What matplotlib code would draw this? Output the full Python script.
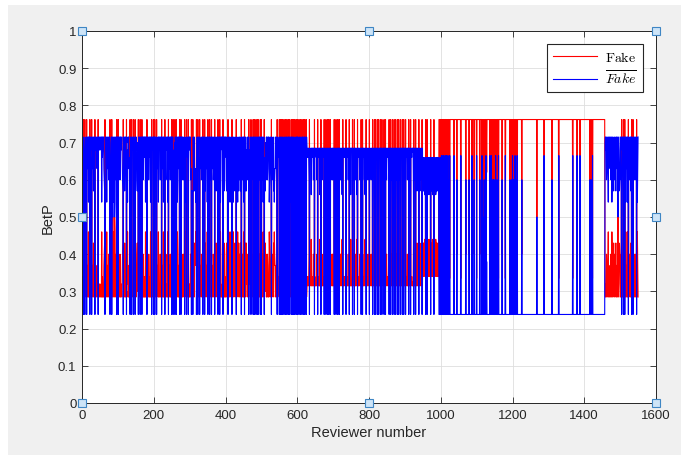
import numpy as np
import matplotlib
matplotlib.use("Agg")
import matplotlib.pyplot as plt
from matplotlib.patches import Rectangle

# BetP level pairs (Fake, not Fake), one letter per level
level_codes = ["a", "k", "l", "o", "c", "m", "d", "n", "e", "g", "f",
               "b", "j", "h", "i", "t", "p", "r"]
fake_levels = [0.285, 0.30, 0.32, 0.34, 0.37, 0.40, 0.43, 0.46, 0.50, 0.62, 0.762,
               0.315, 0.325, 0.34, 0.40, 0.44, 0.335, 0.40]
notfake_levels = [0.715, 0.70, 0.68, 0.66, 0.63, 0.60, 0.57, 0.54, 0.50, 0.38, 0.238,
                  0.685, 0.675, 0.66, 0.60, 0.56, 0.665, 0.60]

# one letter per reviewer, 50 reviewers per row
reviewer_states = [
    "fdmfaldfoc amfackanac afalkafoca kdaamfakla ockafaakla",
    "aklanaoaka cmdfalakna ckamcaafoc kafadeanca enakmafaka",
    "fakcamaalk aomdfakadc akafclnaka comfakcfal kafmadkfal",
    "aomdkcfala kfalnafaca makaoanaka falcamkaoa nacfaklafa",
    "lafamcafoc kanalakmac afakcanalk faomaklana fakcamaoaf",
    "akafolmkfa lafkanmaca kfalafakma camkofacnd fakoafmala",
    "kamcfdndfa cdamdcndfc anfcakafoc kamcalfaka lfadkocana",
    "falcafakma fackamcalf aomdkacafa kcafanmaka lafakdaoak",
    "amdakcfanc adndamcfad cnamcdamdf adcnamdcam cdafncamca",
    "nafcdamdlc amcafnlmac famlcafakf almafcamfa fcamanfoaf",
    "amlanlafoc dkmacamcal anmlacdfac kmadcnmcak camfcakolf",
    "amfakfalfa ncfakmfaca fdmafaofan lafamfadfa kcfanmfaoa",
    "falkfamcfa cdfamafnca faccfabjhb bhifbjhbtb hbjbibjfbb",
    "bjhbibfbhj bbtbhfbjib bjhbfbibhf bjhbfbifbh bfbjhbibib",
    "bjfbihbfbj hbfbjbfbhi bibjtbfbhb bjhbifbjbh bibjfbhbtb",
    "bjbfbibjfb hbibjtbfbh bjbihbjfbb bfbhbjibtb bfbjhbibjh",
    "fbjhbibjhf bjbifbbfjb hbfbjifbbh bfbjbfbihb bfbjbfbhib",
    "bjhbifbjbf bibjfbtbjf bjbfbibjfb bjfbibjfbb hbfbjbfbib",
    "bfbjhbibjb fbjbifbjhb bjbtfbibjf bhbdbihbfb hdbihbjfbd",
    "hdhitdhfhd hfhdhitdhh dfhidhthhd fhdhitdhdh hdhtfffhff",
    "fpfrfpffpf rffpfpfrfp ffrfpfffff ffffffpfff ffffrfffff",
    "fffffpffff fffffffffr ffffffffrf ffffffpfff ffrffffffp",
    "ffffffffrf ffffpfefgf rfeffpfgff ffffffpfrf pfefrfrfff",
    "rfpfefrfff pfffffffff rffffffffp ffffffffff ffrffffrfp",
    "frfrffpfff rfpfffffff fffffrffff ffffffffff ffffffffff",
    "ffffffffff fffffffeff ffffffffff fffffffpff ffffffffff",
    "fffffffffr ffffffffff ffffffffpf ffffffffff ffffffffff",
    "ffffffffff fffffffpff fffffffffp fffffffpff ffffffffff",
    "ffffffffff fffffrffrf ffpfffffff ffffffffff ffffffffff",
    "fffffffkal amcakcnaoa kcamlanmak cdalmaodka camealdcma",
    "amdfalamfa lafcanakca nafcamkcad afaodfalma cmakcfanca",
]

x_ticks = [0, 200, 400, 600, 800, 1000, 1200, 1400, 1600]
y_ticks = [0, 0.1, 0.2, 0.3, 0.4, 0.5, 0.6, 0.7, 0.8, 0.9, 1]
y_tick_labels = ["0", "0.1", "0.2", "0.3", "0.4", "0.5", "0.6", "0.7", "0.8", "0.9", "1"]

# --- build series ---
states = "".join(row.replace(" ", "") for row in reviewer_states)
fake_map = dict(zip(level_codes, fake_levels))
notfake_map = dict(zip(level_codes, notfake_levels))
reviewers = np.arange(1, len(states) + 1)
fake = np.array([fake_map[s] for s in states])
notfake = np.array([notfake_map[s] for s in states])

plt.rcParams["font.family"] = ["Liberation Sans", "DejaVu Sans"]
plt.rcParams["mathtext.fontset"] = "cm"

fig = plt.figure(figsize=(6.81, 4.56), dpi=100)
fig.patch.set_facecolor("white")
fig.patches.append(Rectangle((8 / 681, 0), 1, 450 / 456, transform=fig.transFigure,
                             facecolor="#f0f0f0", edgecolor="none", zorder=-10))
ax = fig.add_axes([82 / 681, 52 / 456, 574 / 681, 372 / 456])
ax.set_facecolor("white")

ax.plot(reviewers, fake, color="#ff0000", lw=0.8, label=r"$\mathrm{Fake}$")
ax.plot(reviewers, notfake, color="#0000ff", lw=0.8, label=r"$\overline{Fake}$")

ax.set_xlim(0, 1600)
ax.set_ylim(0, 1)
ax.set_xticks(x_ticks)
ax.set_yticks(y_ticks)
ax.set_yticklabels(y_tick_labels)
ax.grid(True, color="#dedede", lw=0.6)
ax.set_axisbelow(True)
ax.tick_params(direction="in", length=4, width=0.6, top=True, right=True,
               labelsize=9.5, colors="#262626", pad=4)
for sp in ax.spines.values():
    sp.set_color("#262626")
    sp.set_linewidth(0.7)

ax.set_xlabel("Reviewer number", fontsize=10.5, color="#262626", labelpad=3)
ax.set_ylabel("BetP", fontsize=10.5, color="#262626", labelpad=2)

leg = ax.legend(loc="upper right", bbox_to_anchor=(0.977, 0.965), borderaxespad=0,
                fancybox=False, framealpha=1, edgecolor="#262626", fontsize=10,
                handlelength=3.2, handletextpad=0.6, borderpad=0.4, labelspacing=0.35)
leg.get_frame().set_linewidth(0.8)

# MATLAB edit-mode selection handles
handles_xy = [(0, 1), (0.5, 1), (1, 1), (0, 0.5), (1, 0.5), (0, 0), (0.5, 0), (1, 0)]
for hx, hy in handles_xy:
    ax.plot(hx, hy, marker="s", ms=5.5, mfc="#cde4f7", mec="#3f86c4", mew=0.8,
            transform=ax.transAxes, clip_on=False, zorder=10)

fig.savefig("out.png", dpi=100, facecolor=fig.get_facecolor())
